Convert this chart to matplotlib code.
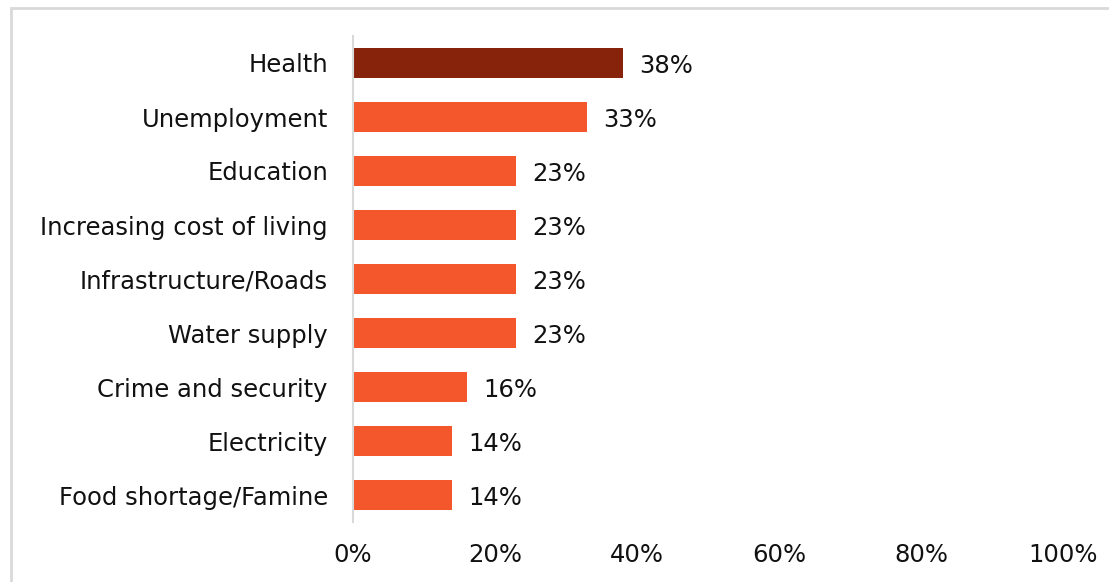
import matplotlib.pyplot as plt
from matplotlib.patches import Rectangle

# datos
categorias = ['Health', 'Unemployment', 'Education', 'Increasing cost of living',
              'Infrastructure/Roads', 'Water supply', 'Crime and security',
              'Electricity', 'Food shortage/Famine']
valores = [38, 33, 23, 23, 23, 23, 16, 14, 14]
ticks_x = [0, 20, 40, 60, 80, 100]

plt.rcParams['font.family'] = ['DejaVu Sans']
fs = 17.5

fig = plt.figure(figsize=(11.09, 5.82), dpi=100)
ax = fig.add_axes([353 / 1109, 1 - 522 / 582, (1063 - 353) / 1109, (522 - 36) / 582])

colores = ['#86230A'] + ['#F4572B'] * (len(valores) - 1)
pos = list(range(len(categorias)))
ax.barh(pos, valores, height=0.56, color=colores)

for y, v in zip(pos, valores):
    ax.text(v + 2.3, y + 0.06, f'{v}%', va='center', ha='left', fontsize=fs, color='#111111')

ax.set_xlim(0, 100)
ax.set_ylim(len(categorias) - 0.5, -0.5)
ax.set_yticks(pos)
ax.set_yticklabels(categorias, fontsize=fs, color='#111111')
ax.set_xticks(ticks_x)
ax.set_xticklabels([f'{t}%' for t in ticks_x], fontsize=fs, color='#111111')
ax.tick_params(axis='both', length=0)
ax.tick_params(axis='y', pad=18)
ax.tick_params(axis='x', pad=15)

for s in ['top', 'right', 'bottom']:
    ax.spines[s].set_visible(False)
ax.spines['left'].set_color('#D9D9D9')
ax.spines['left'].set_linewidth(1.5)

# borde del grafico
fig.patches.append(Rectangle((11 / 1109, -0.1), 1.2, 1.1 - 8 / 582,
                             transform=fig.transFigure, fill=False,
                             edgecolor='#D9D9D9', linewidth=2))

fig.savefig('out.png', dpi=100)
